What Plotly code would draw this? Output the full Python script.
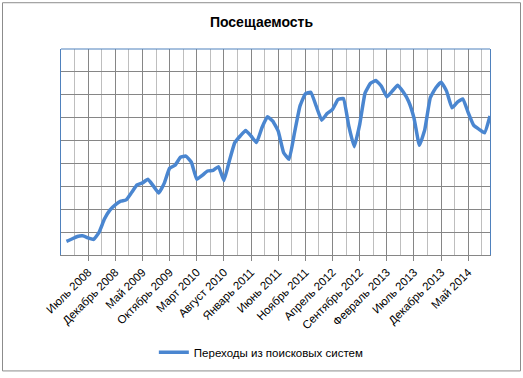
import plotly.graph_objects as go

# Monthly categories: March 2008 .. September 2014
month_names = ["Январь", "Февраль", "Март", "Апрель", "Май", "Июнь", "Июль",
               "Август", "Сентябрь", "Октябрь", "Ноябрь", "Декабрь"]
months = []
for k in range(79):
    m = (2 + k) % 12
    y = 2008 + (2 + k) // 12
    months.append(f"{month_names[m]} {y}")

visits = [0.60, 0.70, 0.81, 0.84, 0.75, 0.68, 0.99, 1.57, 1.96, 2.19,
          2.35, 2.41, 2.73, 3.06, 3.15, 3.31, 3.02, 2.71, 3.13, 3.79,
          3.92, 4.27, 4.32, 4.06, 3.31, 3.48, 3.67, 3.70, 3.86, 3.26,
          4.11, 4.91, 5.20, 5.44, 5.20, 4.91, 5.56, 6.04, 5.85, 5.41,
          4.47, 4.18, 5.34, 6.50, 7.04, 7.11, 6.50, 5.89, 6.18, 6.36,
          6.79, 6.84, 5.63, 4.73, 5.70, 7.08, 7.50, 7.62, 7.37, 6.91,
          7.16, 7.42, 7.13, 6.72, 5.99, 4.79, 5.49, 6.87, 7.30, 7.55,
          7.16, 6.43, 6.68, 6.82, 6.21, 5.66, 5.49, 5.34, 6.07]

series_name = "Переходы из поисковых систем"
title_text = "Посещаемость"

idx = list(range(len(months)))
label_idx = idx[4::5][:15]
label_text = [months[i] for i in label_idx]
minor_idx = [i - 2.5 for i in label_idx] + [label_idx[-1] + 2.5]

fig = go.Figure()
fig.add_trace(go.Scatter(
    x=idx, y=visits, mode="lines", name=series_name,
    line=dict(color="#4A86D0", width=3.5, shape="spline", smoothing=0.35),
    hoverinfo="skip",
))

font_family = "Liberation Sans, Arial, sans-serif"

fig.update_layout(
    width=523, height=378,
    margin=dict(l=61, r=33, t=49, b=122),
    paper_bgcolor="white", plot_bgcolor="white",
    title=dict(text=f"<b>{title_text}</b>", x=0.5, xanchor="center",
               y=1 - 22 / 378, yanchor="middle",
               font=dict(family=font_family, size=14, color="black")),
    showlegend=True,
    legend=dict(orientation="h", x=0.467, xanchor="center", y=-0.465,
                yanchor="middle", font=dict(family=font_family, size=11.5, color="black"),
                bgcolor="rgba(0,0,0,0)"),
    xaxis=dict(
        range=[-1, 78], tickmode="array", tickvals=label_idx, ticktext=label_text,
        tickangle=-45, ticks="outside", ticklen=5, tickcolor="#868686",
        showgrid=True, gridcolor="#868686", gridwidth=1,
        showline=True, linecolor="#868686", linewidth=1,
        zeroline=False, automargin=False,
        tickfont=dict(family=font_family, size=11.5, color="black"),
        minor=dict(tickmode="array", tickvals=minor_idx, showgrid=True,
                   gridcolor="#BEBEBE", gridwidth=1, ticks=""),
        fixedrange=True,
    ),
    yaxis=dict(
        range=[0, 9], dtick=1, showticklabels=False,
        showgrid=True, gridcolor="#868686", gridwidth=1,
        showline=True, linecolor="#4F81BD", linewidth=1, mirror=True,
        zeroline=False, ticks="", fixedrange=True, automargin=False,
    ),
    shapes=[
        dict(type="line", xref="paper", yref="paper", x0=0, x1=1, y0=1, y1=1,
             line=dict(color="#4F81BD", width=1), layer="above"),
        dict(type="rect", xref="paper", yref="paper",
             x0=-58.5 / 429, x1=1 + 30.5 / 429, y0=-(116.5 / 207), y1=1 + 46.5 / 207,
             line=dict(color="#8C8C8C", width=1), layer="below"),
    ],
)

fig.write_html("out.html", config={"displayModeBar": False},
               post_script="document.body.style.margin='0';document.body.style.padding='0';")
